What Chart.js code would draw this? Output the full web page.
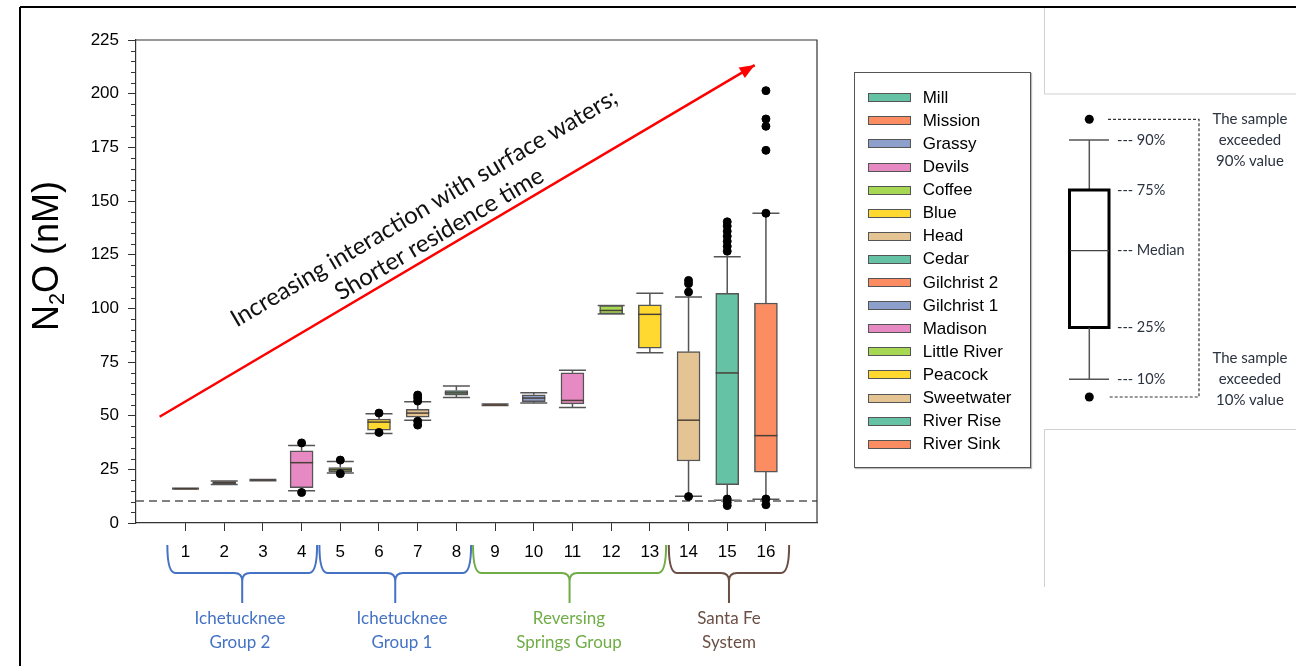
<!DOCTYPE html>
<html>
<head>
<meta charset="utf-8">
<title>N2O by spring</title>
<script src="https://cdn.jsdelivr.net/npm/chart.js@4.4.1/dist/chart.umd.min.js"></script>
<style>
  body { margin: 0; background: #fff; }
  #wrap { position: relative; width: 1296px; height: 666px; overflow: hidden; font-family: Lato, "Open Sans", sans-serif; }
  #n2oChart { position: absolute; left: 0; top: 0; }
  #deco { position: absolute; left: 0; top: 0; pointer-events: none; }
  .abs { position: absolute; white-space: nowrap; }
  #yTitle { left: 46px; top: 256px; transform: translate(-50%, -50%) rotate(-90deg); font: 36px "Liberation Sans", Arial, sans-serif; color: #000; }
  #yTitle sub { font-size: 0.6em; vertical-align: -0.3em; line-height: 0; }
  #trend { left: 431px; top: 220px; transform: translate(-50%, -50%) rotate(-30.5deg); font-size: 24px; line-height: 30px; text-align: center; color: #111; }
  #legend { position: absolute; left: 854px; top: 72px; width: 177px; height: 396px; box-sizing: border-box; border: 1px solid #555; box-shadow: 1px 1px 1px #bbb; background: #fff; }
  .legend-row { position: absolute; left: 13px; height: 20px; display: flex; align-items: center; font: 17px "Liberation Sans", Arial, sans-serif; color: #000; }
  .swatch { width: 43px; height: 9px; box-sizing: border-box; border: 1px solid #555; margin-right: 11.7px; }
  .group { transform: translateX(-50%); text-align: center; font-size: 17px; line-height: 24px; top: 606px; }
  .key { font-size: 14.5px; color: #2b3340; }
  .keyNote { transform: translateX(-50%); text-align: center; font-size: 15px; line-height: 21px; color: #2b3340; }
</style>
</head>
<body>
<div id="wrap">
  <canvas id="n2oChart" width="1296" height="666"></canvas>
  <svg id="deco" width="1296" height="666">
    <line x1="20" y1="7" x2="1296" y2="7" stroke="#000" stroke-width="2"/>
    <line x1="20" y1="7" x2="20" y2="666" stroke="#000" stroke-width="2"/>
    <polyline points="1044.5,8 1044.5,94 1296,94" fill="none" stroke="#d0d0d0" stroke-width="1"/>
    <polyline points="1296,429.5 1044.5,429.5 1044.5,587" fill="none" stroke="#d0d0d0" stroke-width="1"/>
    <!-- key diagram -->
    <circle cx="1089.3" cy="119.3" r="4.5" fill="#000"/>
    <circle cx="1089.3" cy="397" r="4.5" fill="#000"/>
    <polyline points="1108,119.3 1199,119.3 1199,397 1108,397" fill="none" stroke="#333" stroke-width="1.2" stroke-dasharray="3,2"/>
    <line x1="1069" y1="140" x2="1109" y2="140" stroke="#555" stroke-width="1.5"/>
    <line x1="1089.3" y1="140" x2="1089.3" y2="190" stroke="#555" stroke-width="1.5"/>
    <rect x="1069.5" y="190" width="39.5" height="137.5" fill="#fff" stroke="#000" stroke-width="3"/>
    <line x1="1070" y1="250.7" x2="1109" y2="250.7" stroke="#444" stroke-width="1.2"/>
    <line x1="1089.3" y1="327.7" x2="1089.3" y2="379.3" stroke="#555" stroke-width="1.5"/>
    <line x1="1069" y1="379.3" x2="1109" y2="379.3" stroke="#555" stroke-width="1.5"/>
  </svg>

  <div id="yTitle" class="abs">N<sub>2</sub>O (nM)</div>
  <div id="trend" class="abs">Increasing interaction with surface waters;<br>Shorter residence time</div>
  <div id="legend"></div>

  <div class="abs group" style="left:240px; color:#4472c4;">Ichetucknee<br>Group 2</div>
  <div class="abs group" style="left:402px; color:#4472c4;">Ichetucknee<br>Group 1</div>
  <div class="abs group" style="left:569px; color:#70ad47;">Reversing<br>Springs Group</div>
  <div class="abs group" style="left:729px; color:#6b4f45;">Santa Fe<br>System</div>

  <div class="abs key" style="left:1117px; top:131px;">--- 90%</div>
  <div class="abs key" style="left:1117px; top:181px;">--- 75%</div>
  <div class="abs key" style="left:1117px; top:241px;">--- Median</div>
  <div class="abs key" style="left:1117px; top:318px;">--- 25%</div>
  <div class="abs key" style="left:1117px; top:370px;">--- 10%</div>
  <div class="abs keyNote" style="left:1250px; top:108px;">The sample<br>exceeded<br>90% value</div>
  <div class="abs keyNote" style="left:1250px; top:347px;">The sample<br>exceeded<br>10% value</div>
</div>
<script>
const sites = ["Mill", "Mission", "Grassy", "Devils", "Coffee", "Blue", "Head", "Cedar",
  "Gilchrist 2", "Gilchrist 1", "Madison", "Little River", "Peacock", "Sweetwater", "River Rise", "River Sink"];
const siteNumbers = [1, 2, 3, 4, 5, 6, 7, 8, 9, 10, 11, 12, 13, 14, 15, 16];
const siteColors = ["#66c2a5", "#fc8d62", "#8da0cb", "#e78ac3", "#a6d854", "#ffd92f", "#e5c494", "#66c2a5",
  "#fc8d62", "#8da0cb", "#e78ac3", "#a6d854", "#ffd92f", "#e5c494", "#66c2a5", "#fc8d62"];

// percentiles (nM)
const p10 = [15.8, 17.9, 19.7, 15.0, 23.3, 41.7, 47.9, 58.5, 54.7, 55.9, 53.8, 97.4, 79.3, 12.5, 10.6, 11.1];
const p25 = [15.9, 18.3, 19.8, 16.5, 23.8, 43.3, 49.3, 59.6, 54.8, 56.5, 55.5, 97.4, 81.5, 28.9, 17.9, 23.7];
const p50 = [16.0, 18.8, 20.0, 28.1, 24.8, 47.0, 51.2, 60.6, 55.0, 58.2, 57.1, 99.0, 97.2, 47.9, 69.9, 40.7];
const p75 = [16.1, 19.3, 20.2, 33.6, 25.8, 48.4, 52.9, 61.7, 55.3, 59.7, 70.0, 101.3, 101.6, 79.8, 107.0, 102.5];
const p90 = [16.2, 19.6, 20.3, 36.1, 28.6, 50.9, 56.5, 63.8, 55.4, 60.7, 71.1, 101.3, 107.0, 105.3, 124.0, 144.3];

const outlierSite = [4, 4, 5, 5, 6, 6, 7, 7, 7, 7, 7, 14, 14, 14, 14,
  15, 15, 15, 15, 15, 15, 15, 15, 15, 15, 16, 16, 16, 16, 16, 16, 16];
const outlierValue = [37.3, 14.2, 29.3, 23.0, 51.2, 42.2, 59.6, 58.3, 56.8, 47.4, 45.6, 113.0, 111.5, 107.6, 12.3,
  140.3, 138.3, 135.9, 133.6, 131.2, 128.9, 126.6, 11.2, 9.6, 8.1, 201.4, 188.2, 184.8, 173.6, 144.3, 11.2, 8.5];

const yTicks = [0, 25, 50, 75, 100, 125, 150, 175, 200, 225];
const equilibriumN2O = 10.3;

const groupFrom = [0.53, 4.46, 8.43, 13.49];
const groupTo = [4.40, 8.38, 13.42, 16.6];
const groupColors = ["#4472c4", "#4472c4", "#70ad47", "#6b4f45"];

const xMin = -0.28, xMax = 17.32;

// legend
const legendBox = document.getElementById("legend");
sites.forEach((name, i) => {
  const row = document.createElement("div");
  row.className = "legend-row";
  row.style.top = (14.7 + i * 23.1) + "px";
  row.innerHTML = `<span class="swatch" style="background:${siteColors[i]}"></span><span>${name}</span>`;
  legendBox.appendChild(row);
});

const boxPlotExtras = {
  id: "boxPlotExtras",
  beforeDatasetsDraw(chart) {
    const { ctx, scales: { x, y } } = chart;
    ctx.save();
    ctx.strokeStyle = "#555";
    ctx.lineWidth = 1.5;
    siteNumbers.forEach((s, i) => {
      const cx = x.getPixelForValue(s);
      [[p25[i], p10[i]], [p75[i], p90[i]]].forEach(([from, to]) => {
        const yTo = y.getPixelForValue(to);
        ctx.beginPath();
        ctx.moveTo(cx, y.getPixelForValue(from));
        ctx.lineTo(cx, yTo);
        ctx.moveTo(cx - 13.5, yTo);
        ctx.lineTo(cx + 13.5, yTo);
        ctx.stroke();
      });
    });
    ctx.restore();
  },
  afterDatasetDraw(chart, args) {
    if (args.index !== 1) return;
    const { ctx, scales: { x, y } } = chart;
    ctx.save();
    ctx.strokeStyle = "#4a4038";
    ctx.lineWidth = 1.5;
    siteNumbers.forEach((s, i) => {
      const cx = x.getPixelForValue(s);
      const my = y.getPixelForValue(p50[i]);
      ctx.beginPath();
      ctx.moveTo(cx - 11.5, my);
      ctx.lineTo(cx + 11.5, my);
      ctx.stroke();
    });
    ctx.restore();
  },
  afterDatasetsDraw(chart) {
    // arrow head on the trend line
    const { ctx } = chart;
    const pts = chart.getDatasetMeta(3).data;
    const a = pts[0], b = pts[pts.length - 1];
    const ang = Math.atan2(b.y - a.y, b.x - a.x);
    const len = 15, half = 6;
    ctx.save();
    ctx.fillStyle = "#ff0000";
    ctx.beginPath();
    ctx.moveTo(b.x, b.y);
    ctx.lineTo(b.x - len * Math.cos(ang) + half * Math.sin(ang), b.y - len * Math.sin(ang) - half * Math.cos(ang));
    ctx.lineTo(b.x - len * Math.cos(ang) - half * Math.sin(ang), b.y - len * Math.sin(ang) + half * Math.cos(ang));
    ctx.closePath();
    ctx.fill();
    ctx.restore();
  },
  afterDraw(chart) {
    const { ctx, chartArea: area, scales: { x, y } } = chart;
    ctx.save();
    // frame top / right
    ctx.strokeStyle = "#333";
    ctx.lineWidth = 1.2;
    ctx.beginPath();
    ctx.moveTo(area.left, area.top);
    ctx.lineTo(area.right, area.top);
    ctx.lineTo(area.right, area.bottom);
    ctx.stroke();
    // minor ticks every 5
    ctx.lineWidth = 1;
    ctx.beginPath();
    for (let v = 5; v < 225; v += 5) {
      if (v % 25 === 0) continue;
      const py = Math.round(y.getPixelForValue(v)) + 0.5;
      ctx.moveTo(area.left - 5, py);
      ctx.lineTo(area.left, py);
    }
    ctx.stroke();
    // group brackets
    const top = 545, mid = 573, tip = 603, r = 8;
    ctx.lineWidth = 2;
    groupFrom.forEach((g, i) => {
      const x0 = x.getPixelForValue(g), x1 = x.getPixelForValue(groupTo[i]);
      const xc = (x0 + x1) / 2;
      ctx.strokeStyle = groupColors[i];
      ctx.beginPath();
      ctx.moveTo(x0, top);
      ctx.quadraticCurveTo(x0, mid, x0 + r, mid);
      ctx.lineTo(xc - r, mid);
      ctx.quadraticCurveTo(xc, mid, xc, mid + r);
      ctx.lineTo(xc, tip);
      ctx.moveTo(xc, mid + r);
      ctx.quadraticCurveTo(xc, mid, xc + r, mid);
      ctx.lineTo(x1 - r, mid);
      ctx.quadraticCurveTo(x1, mid, x1, top);
      ctx.stroke();
    });
    ctx.restore();
  }
};

const ctx = document.getElementById("n2oChart").getContext("2d");
new Chart(ctx, {
  type: "bar",
  data: {
    datasets: [
      {
        type: "line",
        label: "equilibrium",
        data: [{ x: xMin, y: equilibriumN2O }, { x: xMax, y: equilibriumN2O }],
        borderColor: "#808080",
        borderWidth: 2,
        borderDash: [8, 5],
        pointRadius: 0,
        order: 5,
      },
      {
        type: "bar",
        label: "IQR",
        data: siteNumbers.map((s, i) => ({ x: s, y: [p25[i], p75[i]] })),
        backgroundColor: siteColors,
        borderColor: "#555",
        borderWidth: 1.5,
        borderSkipped: false,
        barThickness: 23,
        order: 3,
      },
      {
        type: "scatter",
        label: "outliers",
        data: outlierSite.map((s, i) => ({ x: s, y: outlierValue[i] })),
        backgroundColor: "#000",
        borderColor: "#000",
        pointRadius: 4,
        order: 1,
      },
      {
        type: "line",
        label: "trend",
        data: [{ x: 0.33, y: 49.5 }, { x: 15.71, y: 213.3 }],
        borderColor: "#ff0000",
        borderWidth: 2.5,
        pointRadius: 0,
        order: 0,
      },
    ],
  },
  options: {
    responsive: false,
    animation: false,
    devicePixelRatio: 1,
    layout: { padding: { left: 76, top: 40, right: 479, bottom: 103 } },
    plugins: { legend: { display: false }, tooltip: { enabled: false } },
    scales: {
      x: {
        type: "linear",
        min: xMin,
        max: xMax,
        offset: false,
        afterBuildTicks: (axis) => { axis.ticks = siteNumbers.map((v) => ({ value: v })); },
        afterFit: (axis) => { axis.height = 40; },
        grid: { drawOnChartArea: false, offset: false, tickLength: 8, color: "#333" },
        border: { color: "#333", width: 1.2 },
        ticks: { color: "#000", font: { family: "'Liberation Sans', Arial", size: 17 }, padding: 11, maxRotation: 0 },
      },
      y: {
        min: 0,
        max: 225,
        afterBuildTicks: (axis) => { axis.ticks = yTicks.map((v) => ({ value: v })); },
        afterFit: (axis) => { axis.width = 60; },
        grid: { drawOnChartArea: false, tickLength: 8, color: "#333" },
        border: { color: "#333", width: 1.2 },
        ticks: { color: "#000", font: { family: "'Liberation Sans', Arial", size: 17 }, padding: 9 },
      },
    },
  },
  plugins: [boxPlotExtras],
});
</script>
</body>
</html>
